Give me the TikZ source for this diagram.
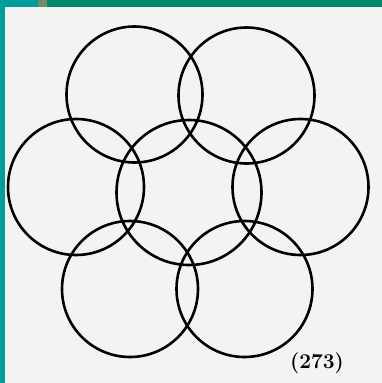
\documentclass[tikz,border=0pt]{standalone}
\begin{document}
\begin{tikzpicture}[x=1pt,y=-1pt,
  ring/.style={draw=black,line width=2.6pt,circle,inner sep=0pt,minimum size=136pt},
  bigring/.style={ring,minimum size=145pt},
  lbl/.style={font=\fontsize{21}{24}\selectfont\bfseries,inner sep=0pt}]
\definecolor{paper}{HTML}{F3F3F2}
\definecolor{teal1}{HTML}{009E9A}
\definecolor{green1}{HTML}{008A6C}
\definecolor{olive1}{HTML}{6E8C68}
\useasboundingbox (0,0) rectangle (382,383);
\fill[paper] (0,0) rectangle (382,383);
\fill[teal1] (0,0) rectangle (5,383);
\fill[teal1] (0,0) rectangle (38,7);
\fill[olive1] (38,0) rectangle (47,7);
\fill[green1] (47,0) rectangle (382,7);
\node[ring] (tl) at (134.5,94.5) {};
\node[ring] (tr) at (246.5,95.5) {};
\node[ring] (ml) at (76,187) {};
\node[ring] (mr) at (300.5,187) {};
\node[bigring] (c) at (189,192.5) {};
\node[ring] (bl) at (130,289) {};
\node[ring] (br) at (244.5,289) {};
\node[lbl] (num) at (317,363) {(273)};
\end{tikzpicture}
\end{document}
